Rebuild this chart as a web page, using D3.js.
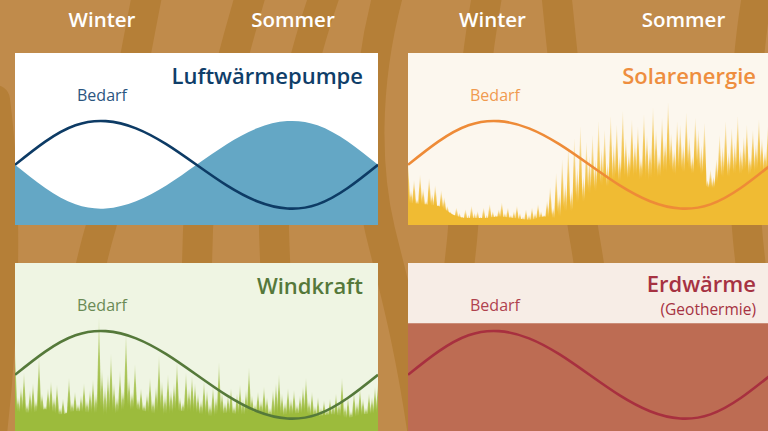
<!DOCTYPE html>
<html><head><meta charset="utf-8">
<script src="https://cdn.jsdelivr.net/npm/d3@7"></script>
<style>html,body{margin:0;padding:0;background:#c08b4b}svg{display:block}</style>
</head><body>
<script>
// ---------- DATA ----------
const monate = ["Jan","Feb","Mär","Apr","Mai","Jun","Jul","Aug","Sep","Okt","Nov","Dez","Jan"];
const jahreszeiten = ["Winter","Sommer"];
// demand (Bedarf), relative units 0..100 of panel height
const bedarf     = [35, 48.5, 58, 60.4, 56.2, 47, 35, 23, 13.8, 9.6, 12, 21.5, 35];
// air heat pump supply
const luftwaerme = [35, 21.5, 12, 9.6, 13.8, 23, 35, 47, 56.2, 60.4, 58, 48.5, 35];
// geothermal supply (constant)
const erdwaerme  = [65, 65, 65, 65, 65, 65, 65, 65, 65, 65, 65, 65, 65];
// solar: spike tips and solid base
const solarSpitzen = [36, 20, 26, 15, 29, 21, 14, 27, 18, 23, 12, 20, 16, 11,
  8, 6, 10, 7, 5, 9, 6, 11, 7, 8, 5, 10, 6, 12, 8, 6, 9, 13, 7, 10, 6, 8, 11, 7, 5, 9, 6, 10, 7, 12, 8, 6,
  14, 22, 10, 30, 18, 38, 24, 45, 20, 50, 33, 57, 28, 48, 40,
  52, 38, 60, 44, 55, 36, 63, 47, 58, 40, 66, 50, 42, 61, 48, 57, 39, 64, 52, 45, 68, 55, 41, 62, 49, 71, 53, 44, 60, 58,
  47, 65, 51, 40, 62, 55, 46, 59, 26, 32, 28, 38, 52, 45, 60, 42, 56, 48, 63, 44, 51, 58, 40, 55, 47, 61, 50, 43, 57, 52];
const solarSockel = [13, 12, 11, 6, 4, 4, 5, 4, 3, 5, 4, 8, 14, 20, 24, 27, 25, 29, 28, 30, 21, 26, 28, 30, 31];
// wind: spike tips and solid base
const windSpitzen = [49, 22, 28, 36, 18, 26, 30, 20, 45, 24, 17, 27, 31, 22, 29, 16, 21, 14, 33, 19,
  25, 18, 23, 30, 20, 26, 32, 24, 68, 38, 28, 35, 47, 30, 22, 37, 26, 59, 33, 25,
  41, 21, 27, 18, 24, 33, 20, 28, 46, 31, 23, 35, 26, 30, 42, 22, 19, 36, 27, 34,
  30, 24, 20, 31, 26, 18, 28, 22, 42, 25, 19, 23, 27, 17, 24, 29, 21, 26, 39, 23,
  18, 25, 20, 28, 22, 16, 26, 30, 35, 24, 19, 27, 21, 26, 18, 23, 28, 33, 20, 25,
  17, 22, 16, 20, 15, 21, 18, 24, 19, 33, 17, 22, 14, 25, 19, 27, 21, 16, 24, 22, 28, 30];
const windSockel = [14, 13, 15, 12, 14, 13, 11, 14, 15, 13, 12, 14, 13, 11, 13, 12, 14, 11, 12, 13, 11, 12, 10, 12, 13];

// ---------- LAYOUT ----------
const W = 768, H = 431, PW = 363, PH = 172;
const panels = [
  {id:"luft",  x:15,  y:53,  bg:"#ffffff", title:"Luftwärmepumpe", tcol:"#0f3e69", bcol:"#2b557f", lcol:"#0d3b65", fill:"#64a7c5", supply:luftwaerme},
  {id:"solar", x:408, y:53,  bg:"#fcf7ee", title:"Solarenergie",   tcol:"#ee8e3e", bcol:"#f09a50", lcol:"#ee8b37", fill:"#f0bb33", spikes:solarSpitzen, base:solarSockel},
  {id:"wind",  x:15,  y:263, bg:"#eff5e3", title:"Windkraft",      tcol:"#55783a", bcol:"#6a8a55", lcol:"#55793a", fill:"#9cbb3c", spikes:windSpitzen, base:windSockel},
  {id:"erd",   x:408, y:263, bg:"#f7ede6", title:"Erdwärme", sub:"(Geothermie)", tcol:"#a63242", bcol:"#b0424e", lcol:"#a8303f", fill:"#bd6c53", supply:erdwaerme}
];

const svg = d3.select("body").append("svg").attr("width", W).attr("height", H)
  .attr("font-family", "'Open Sans', 'Noto Sans', sans-serif");
const defs = svg.append("defs");

// ---------- BACKGROUND ----------
svg.append("rect").attr("width", W).attr("height", H).attr("fill", "#c08b4b");
const bands = [
  "M 55 450 C 75 340, 88 270, 100 230 S 130 80, 150 -20",
  "M 192 450 C 194 340, 197 270, 198 230 S 225 80, 255 -20",
  "M 282 450 C 279 340, 275 270, 274 230 S 300 60, 330 -20",
  "M 425 450 C 410 340, 392 280, 380 230 S 360 90, 392 -20",
  "M 440 450 C 450 340, 458 280, 462 240 S 470 80, 490 -20",
  "M 610 450 C 600 340, 592 280, 585 240 S 565 80, 555 -20",
  "M 770 450 C 760 340, 752 280, 748 240 S 740 80, 760 -20",
  "M -10 450 C 5 330, 8 200, -5 100"
];
svg.append("g").selectAll("path").data(bands).join("path")
  .attr("d", d => d).attr("fill", "none").attr("stroke", "#b57f37")
  .attr("stroke-width", 30).attr("stroke-linecap", "round");

// ---------- HEADERS ----------
const headerX = d3.scalePoint().domain(jahreszeiten).range([102, 293]);
[0, 390.5].forEach(off => {
  svg.append("g").selectAll("text").data(jahreszeiten).join("text")
    .attr("x", d => headerX(d) + off).attr("y", 27)
    .attr("text-anchor", "middle").attr("fill", "#ffffff")
    .attr("font-size", 20.5).attr("font-weight", 600).text(d => d);
});

// ---------- PANELS ----------
const x = d3.scaleLinear().domain([0, monate.length - 1]).range([0, PW]);
const y = d3.scaleLinear().domain([0, 100]).range([PH, 0]);

panels.forEach(p => {
  defs.append("clipPath").attr("id", "clip-" + p.id)
    .append("rect").attr("width", PW).attr("height", PH);
  const g = svg.append("g").attr("transform", `translate(${p.x},${p.y})`);
  const c = g.append("g").attr("clip-path", `url(#clip-${p.id})`);
  c.append("rect").attr("width", PW).attr("height", PH).attr("fill", p.bg);

  if (p.supply) {
    c.append("path").datum(p.supply)
      .attr("d", d3.area().x((d, i) => x(i)).y0(PH).y1(d => y(d)).curve(d3.curveNatural))
      .attr("fill", p.fill);
  }
  if (p.spikes) {
    const gid = "grad-" + p.id;
    const lg = defs.append("linearGradient").attr("id", gid)
      .attr("x1", 0).attr("y1", 0).attr("x2", 0).attr("y2", 1);
    lg.append("stop").attr("offset", 0).attr("stop-color", p.fill).attr("stop-opacity", 0.05);
    lg.append("stop").attr("offset", 0.4).attr("stop-color", p.fill).attr("stop-opacity", 0.75);
    lg.append("stop").attr("offset", 0.75).attr("stop-color", p.fill).attr("stop-opacity", 1);
    lg.append("stop").attr("offset", 1).attr("stop-color", p.fill).attr("stop-opacity", 1);
    const bx = d3.scaleLinear().domain([0, p.base.length - 1]).range([0, PW]);
    const sx = d3.scaleLinear().domain([0, p.spikes.length - 1]).range([0, PW]);
    const baseAt = d3.scaleLinear().domain(p.base.map((d, i) => bx(i))).range(p.base);
    // solid base
    c.append("path").datum(p.base)
      .attr("d", d3.area().x((d, i) => bx(i)).y0(PH).y1(d => y(d)).curve(d3.curveMonotoneX))
      .attr("fill", p.fill);
    // spikes
    c.append("g").selectAll("path").data(p.spikes).join("path")
      .attr("d", (d, i) => {
        const cx = sx(i), b = Math.min(baseAt(cx), d) - 3;
        const yb = y(b), yt = y(d);
        return `M${cx - 2.2},${yb}L${cx - 0.25},${yt}L${cx + 0.25},${yt}L${cx + 2.2},${yb}Z`;
      })
      .attr("fill", `url(#${gid})`);
  }

  // demand line
  c.append("path").datum(bedarf)
    .attr("d", d3.line().x((d, i) => x(i)).y(d => y(d)).curve(d3.curveNatural))
    .attr("fill", "none").attr("stroke", p.lcol).attr("stroke-width", 2.6);

  // labels
  g.append("text").attr("x", 87).attr("y", 48).attr("text-anchor", "middle")
    .attr("fill", p.bcol).attr("font-size", 16).text("Bedarf");
  g.append("text").attr("x", 348).attr("y", p.sub ? 29 : 31).attr("text-anchor", "end")
    .attr("fill", p.tcol).attr("font-size", 22).attr("font-weight", 600).text(p.title);
  if (p.sub) {
    g.append("text").attr("x", 348).attr("y", 51.8).attr("text-anchor", "end")
      .attr("fill", p.tcol).attr("font-size", 15.5).text(p.sub);
  }
});
</script>
</body></html>
